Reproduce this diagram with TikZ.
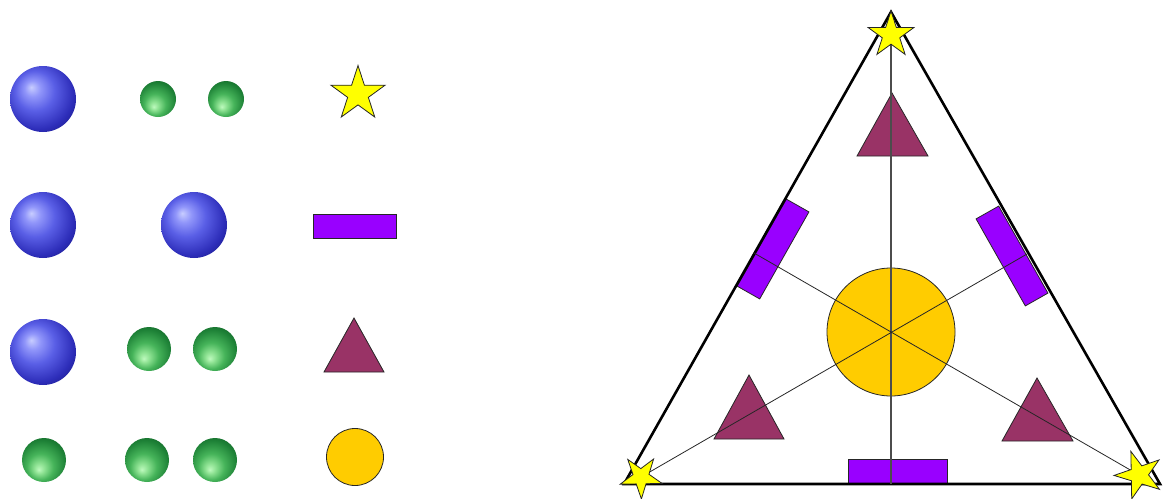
\documentclass[tikz,border=0pt]{standalone}
\usetikzlibrary{shapes.geometric}
\definecolor{starY}{RGB}{255,255,0}
\definecolor{rectP}{RGB}{153,0,255}
\definecolor{triM}{RGB}{153,51,102}
\definecolor{goldC}{RGB}{255,204,0}
\definecolor{bA}{RGB}{200,205,255}
\definecolor{bB}{RGB}{145,150,250}
\definecolor{bC}{RGB}{90,95,230}
\definecolor{bD}{RGB}{45,45,185}
\definecolor{bE}{RGB}{20,20,115}
\definecolor{gA}{RGB}{190,250,190}
\definecolor{gB}{RGB}{140,225,145}
\definecolor{gC}{RGB}{70,180,90}
\definecolor{gD}{RGB}{30,130,55}
\definecolor{gE}{RGB}{10,85,30}
\pgfdeclareradialshading{bluesph}{\pgfpoint{-9bp}{9bp}}{color(0bp)=(bA); color(6bp)=(bB); color(15bp)=(bC); color(27bp)=(bD); color(38bp)=(bE); color(50bp)=(bE)}
\pgfdeclareradialshading{greensph}{\pgfpoint{-6bp}{-11bp}}{color(0bp)=(gA); color(6bp)=(gB); color(15bp)=(gC); color(27bp)=(gD); color(38bp)=(gE); color(50bp)=(gE)}
\begin{document}
\begin{tikzpicture}[x=1pt,y=-1pt,
  outl/.style={draw=black!85, line width=0.8pt},
  starsty/.style={star, star points=5, star point ratio=2.618, fill=starY, outl, inner sep=0pt, outer sep=0pt},
  prect/.style={rectangle, fill=rectP, outl, inner sep=0pt, outer sep=0pt},
  goldcirc/.style={circle, fill=goldC, outl, inner sep=0pt, outer sep=0pt},
  tristy/.style={fill=triM, outl},
  bigside/.style={draw=black, line width=2.6pt, line join=miter},
  median/.style={draw=black!85, line width=0.8pt},
  axisline/.style={draw=black!70, line width=1.5pt},
  bluesphere/.style={shading=bluesph},
  greensphere/.style={shading=greensph}]
\useasboundingbox (0,0) rectangle (1164,498);
% ---------- left panel ----------
\shade[bluesphere] (43,99) circle (33pt);
\shade[greensphere] (158,99) circle (18pt);
\shade[greensphere] (226,99) circle (18pt);
\node[starsty, minimum size=57pt] (legStar) at (358,94) {};
\shade[bluesphere] (43,225) circle (33pt);
\shade[bluesphere] (194,225) circle (33pt);
\node[prect, minimum width=83pt, minimum height=24pt] (legRect) at (354.5,226) {};
\shade[bluesphere] (43,352) circle (33pt);
\shade[greensphere] (149,349) circle (22pt);
\shade[greensphere] (215,349) circle (22pt);
\filldraw[tristy] (354,318) -- (384,372) -- (324,372) -- cycle;
\shade[greensphere] (44,460) circle (22pt);
\shade[greensphere] (147,460) circle (22pt);
\shade[greensphere] (215,460) circle (22pt);
\node[goldcirc, minimum size=57pt] (legCirc) at (355,457) {};
% ---------- right panel ----------
\coordinate (A) at (891,12);
\coordinate (BL) at (624,484);
\coordinate (BR) at (1160,484);
\coordinate (sTc) at (891,35);
\coordinate (sLc) at (641,477);
\coordinate (sRc) at (1139,475);
\coordinate (mB) at (891,484);
\coordinate (mL) at (754,253);
\coordinate (mR) at (1027,254);
% shapes
\filldraw[tristy] (892,93) -- (928,156) -- (857,156) -- cycle;
\filldraw[tristy] (749,375) -- (784,439) -- (714,439) -- cycle;
\filldraw[tristy] (1037,378) -- (1073,441) -- (1002,441) -- cycle;
\node[goldcirc, minimum size=128pt] (gc) at (891,332) {};
\node[prect, minimum width=99pt, minimum height=25pt] (rB) at (897.5,471.5) {};
\node[prect, minimum width=100pt, minimum height=26pt, rotate=60.5] (rL) at (773,249) {};
\node[prect, minimum width=100pt, minimum height=26pt, rotate=-60.5] (rR) at (1012,256) {};
% lines
\draw[bigside] (A) -- (BL) -- (BR) -- cycle;
\draw[axisline] (sTc) -- (mB);
\draw[median] (sLc) -- (mR);
\draw[median] (sRc) -- (mL);
% stars on top
\node[starsty, minimum size=48pt] (sT) at (sTc) {};
\node[starsty, minimum size=44pt, rotate=37] (sL) at (sLc) {};
\node[starsty, minimum size=50pt, rotate=19] (sR) at (sRc) {};
\end{tikzpicture}
\end{document}
